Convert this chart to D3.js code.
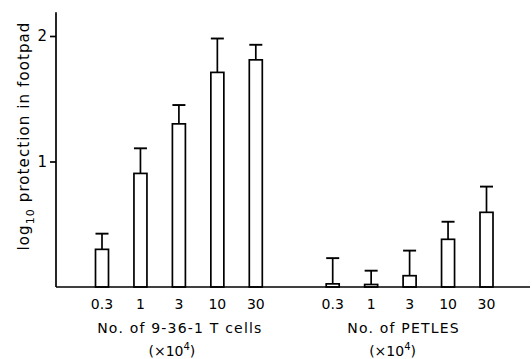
<!DOCTYPE html>
<html><head><meta charset="utf-8">
<script src="https://cdn.jsdelivr.net/npm/d3@7"></script>
<style>body{margin:0;background:#fff}svg{display:block}text{font-family:"DejaVu Sans",sans-serif;fill:#000}</style>
</head><body><svg id="c" width="532" height="359"></svg>
<script>
const doses = ["0.3","1","3","10","30"];
const tcellMeans = [0.30, 0.905, 1.30, 1.71, 1.81];
const tcellUpper = [0.425, 1.105, 1.45, 1.98, 1.93];
const petlesMeans = [0.025, 0.02, 0.09, 0.38, 0.595];
const petlesUpper = [0.23, 0.13, 0.29, 0.52, 0.80];
const yTicks = [1, 2];
const groupLabels = ["No. of 9-36-1 T cells", "No. of PETLES"];

const svg = d3.select("#c");
const x = d3.scaleLinear().domain([0, 10]).range([102, 486.5]);
const y = d3.scaleLinear().domain([0, 2]).range([287, 36]);
const bw = 13;

const data = [];
doses.forEach((d, i) => data.push({slot: i, label: d, v: tcellMeans[i], up: tcellUpper[i]}));
doses.forEach((d, i) => data.push({slot: i + 6, label: d, v: petlesMeans[i], up: petlesUpper[i]}));

const g = svg.append("g").attr("stroke", "#000").attr("stroke-width", 1.7).attr("fill", "none");
// error bars
data.forEach(d => {
  const cx = x(d.slot);
  g.append("line").attr("x1", cx).attr("x2", cx).attr("y1", y(d.v)).attr("y2", y(d.up));
  g.append("line").attr("x1", cx - bw / 2).attr("x2", cx + bw / 2).attr("y1", y(d.up)).attr("y2", y(d.up)).attr("stroke-width", 1.9);
});
// bars
g.selectAll("rect.bar").data(data).enter().append("rect")
  .attr("x", d => x(d.slot) - bw / 2).attr("width", bw)
  .attr("y", d => y(d.v)).attr("height", d => y(0) - y(d.v))
  .attr("fill", "#fff");

// axes lines
g.append("line").attr("x1", 56).attr("x2", 56).attr("y1", y(2.19)).attr("y2", y(0));
g.append("line").attr("x1", 56).attr("x2", 530).attr("y1", y(0)).attr("y2", y(0));
// y ticks
const yAxis = d3.axisLeft(y).tickValues(yTicks).tickFormat(d3.format("d")).tickSize(6).tickPadding(3);
const ya = svg.append("g").attr("transform", "translate(56,0)").call(yAxis);
ya.select(".domain").remove();
ya.selectAll("line").attr("stroke", "#000").attr("stroke-width", 1.7);
ya.selectAll("text").attr("font-size", 15).style("font-family", "DejaVu Sans").attr("fill", "#000");

// x tick labels
svg.selectAll("text.xt").data(data).enter().append("text")
  .attr("x", d => x(d.slot)).attr("y", 309).attr("text-anchor", "middle")
  .attr("font-size", 14).text(d => d.label);

// group labels
const gc = [x(2) + 1, x(8) - 6];
groupLabels.forEach((t, i) => {
  svg.append("text").attr("x", gc[i]).attr("y", 333).attr("text-anchor", "middle")
    .attr("font-size", 14).attr("letter-spacing", 1.2).text(t);
  const t2 = svg.append("text").attr("x", gc[i] - 8 + (i ? -3 : 0)).attr("y", 356).attr("text-anchor", "middle").attr("font-size", 14);
  t2.append("tspan").text("(×10");
  t2.append("tspan").attr("dy", -6).attr("font-size", 10).text("4");
  t2.append("tspan").attr("dy", 6).text(")");
});

// y label
const yl = svg.append("text").attr("transform", "translate(29,136) rotate(-90)").attr("text-anchor", "middle")
  .attr("font-size", 15).attr("letter-spacing", 1.1);
yl.append("tspan").text("log");
yl.append("tspan").attr("dy", 5).attr("font-size", 11).text("10");
yl.append("tspan").attr("dy", -5).text(" protection in footpad");
</script></body></html>
